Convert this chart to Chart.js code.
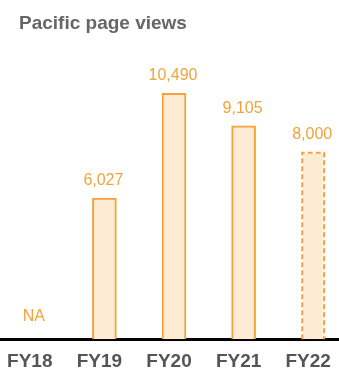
<!DOCTYPE html>
<html>
<head>
<meta charset="utf-8">
<script src="https://cdn.jsdelivr.net/npm/chart.js@4"></script>
<style>
  html, body { margin: 0; padding: 0; background: #fff; overflow: hidden; }
  #wrap { position: relative; width: 348px; height: 384px; }
</style>
</head>
<body>
<div id="wrap"><canvas id="viewsChart"></canvas></div>
<script>
const years = ["FY18", "FY19", "FY20", "FY21", "FY22"];
const pageViews = [null, 6027, 10490, 9105, 8000];
const projected = [false, false, false, false, true];

const orange = "#F2A33A";
const fill = "#FDEBD3";
const fontFamily = "'Liberation Sans', Arial, sans-serif";

// title drawn at the top-left corner
const titlePlugin = {
  id: "cornerTitle",
  afterDraw(chart) {
    const ctx = chart.ctx;
    ctx.save();
    ctx.font = "bold 19px " + fontFamily;
    ctx.fillStyle = "#666666";
    ctx.textAlign = "left";
    ctx.textBaseline = "alphabetic";
    ctx.fillText("Pacific page views", 19, 29);
    ctx.restore();
  }
};

// value labels above bars, dashed outline for projected years
const barExtras = {
  id: "barExtras",
  afterDatasetsDraw(chart) {
    const ctx = chart.ctx;
    const meta = chart.getDatasetMeta(0);
    const xScale = chart.scales.x;
    const bottom = chart.chartArea.bottom;
    ctx.save();
    meta.data.forEach((bar, i) => {
      const v = pageViews[i];
      if (projected[i] && v != null) {
        const w = bar.width;
        ctx.setLineDash([5, 3]);
        ctx.lineWidth = 2;
        ctx.strokeStyle = orange;
        ctx.beginPath();
        ctx.moveTo(bar.x - w / 2 + 1, bottom);
        ctx.lineTo(bar.x - w / 2 + 1, bar.y + 1);
        ctx.lineTo(bar.x + w / 2 - 1, bar.y + 1);
        ctx.lineTo(bar.x + w / 2 - 1, bottom);
        ctx.stroke();
        ctx.setLineDash([]);
      }
      ctx.font = "16px " + fontFamily;
      ctx.fillStyle = orange;
      ctx.textAlign = "center";
      ctx.textBaseline = "alphabetic";
      if (v == null) {
        ctx.fillText("NA", xScale.getPixelForValue(i) - 1, bottom - 18.5);
      } else {
        ctx.fillText(v.toLocaleString("en-US"), bar.x - 1, bar.y - 13);
      }
    });
    ctx.restore();
  }
};

new Chart(document.getElementById("viewsChart"), {
  type: "bar",
  data: {
    labels: years,
    datasets: [{
      label: "Page views",
      data: pageViews,
      backgroundColor: fill,
      borderColor: projected.map(p => p ? "rgba(0,0,0,0)" : orange),
      borderWidth: 2,
      borderSkipped: "bottom",
      barThickness: 24,
    }]
  },
  options: {
    responsive: true,
    maintainAspectRatio: false,
    animation: false,
    layout: { padding: { top: 58, left: 0, right: 0, bottom: 0 } },
    plugins: {
      legend: { display: false },
      tooltip: { enabled: false },
      title: { display: false }
    },
    scales: {
      x: {
        grid: { display: false, drawTicks: false },
        border: { display: true, color: "#000", width: 3 },
        ticks: {
          color: "#555555",
          padding: 11,
          labelOffset: -5,
          font: { family: fontFamily, size: 19, weight: "bold" }
        }
      },
      y: {
        display: false,
        min: 0,
        max: 12000
      }
    }
  },
  plugins: [titlePlugin, barExtras]
});
</script>
</body>
</html>
